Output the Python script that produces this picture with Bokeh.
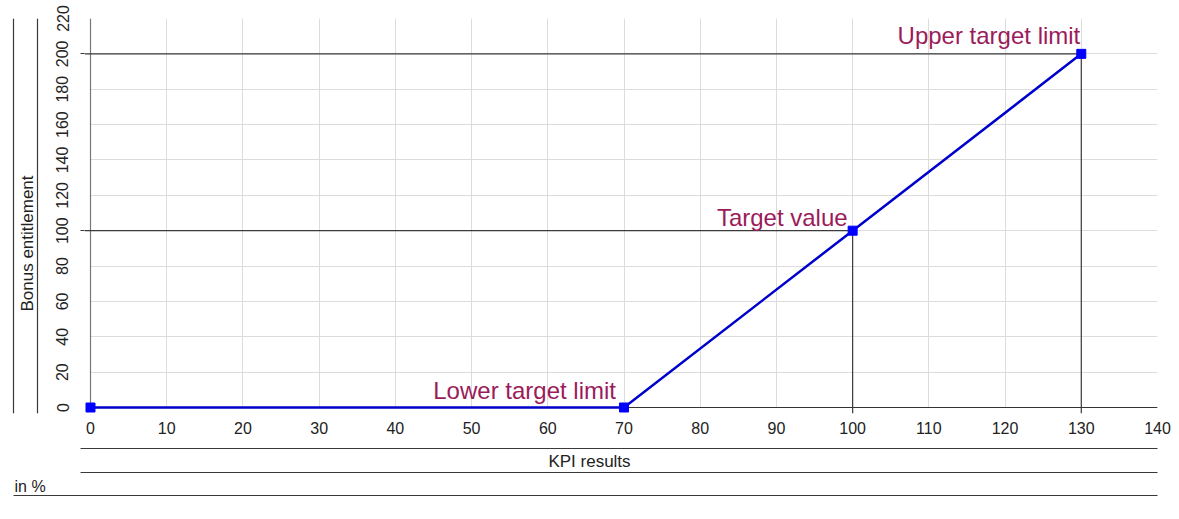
import math
from bokeh.plotting import figure
from bokeh.layouts import row, column
from bokeh.models import ColumnDataSource, FixedTicker, Range1d, BoxAnnotation
from bokeh.core.properties import value
from bokeh.embed import file_html
from bokeh.resources import INLINE

# ---- data ----
kpi = [0, 70, 100, 130]
bonus = [0, 0, 100, 200]
point_names = ["Lower target limit", "Target value", "Upper target limit"]
name_kpi = [70, 100, 130]
name_bonus = [0, 100, 200]
ref_kpi = [100, 130]
ref_bonus = [100, 200]
x_ticks = [0, 10, 20, 30, 40, 50, 60, 70, 80, 90, 100, 110, 120, 130, 140]
y_ticks = [0, 20, 40, 60, 80, 100, 120, 140, 160, 180, 200, 220]
x_title = "KPI results"
y_title = "Bonus entitlement"
unit_label = "in %"

# ---- layout (page pixels) ----
W, H = 1179, 519
LEFT_W = 45            # left strip with the y title
MAIN_H = 446           # main chart height
X0_PX, X1_PX = 90, 1157    # page x of kpi 0 and 140
Y0_PX, Y1_PX = 407, 18     # page y of bonus 0 and 220
PAD = 6                # frame padding below / left of the axes (keeps corner markers whole)
FONT = value("Liberation Sans")
TXT = "#222222"
MAROON = "#9b1b5b"
DARK = "#3a3a3a"

def mid(baseline_px, size_px):
    # vertical middle of a text line whose baseline is at baseline_px
    return baseline_px - 0.35 * size_px

sx = (X1_PX - X0_PX) / 140.0
sy = (Y0_PX - Y1_PX) / 220.0
FRAME_TOP, FRAME_BOTTOM = Y1_PX, Y0_PX + PAD

main_w = W - LEFT_W
p = figure(width=main_w, height=MAIN_H,
           x_range=Range1d(-PAD / sx, 140), y_range=Range1d(-PAD / sy, 220),
           output_backend="svg", toolbar_location=None,
           min_border_left=X0_PX - LEFT_W - PAD, min_border_right=W - X1_PX,
           min_border_top=FRAME_TOP, min_border_bottom=MAIN_H - FRAME_BOTTOM)
p.outline_line_color = None
p.background_fill_color = "white"
p.border_fill_color = "white"

# axes: labels only, the axis lines are drawn at 0 below
p.xaxis.ticker = FixedTicker(ticks=x_ticks)
p.yaxis.ticker = FixedTicker(ticks=y_ticks, minor_ticks=ref_bonus)
for ax in (p.xaxis[0], p.yaxis[0]):
    ax.axis_line_color = None
    ax.major_tick_line_color = None
    ax.major_tick_out = 0
    ax.major_tick_in = 0
    ax.minor_tick_in = 0
    ax.minor_tick_line_color = DARK
    ax.minor_tick_line_width = 1.2
    ax.major_label_text_font = "Liberation Sans"
    ax.major_label_text_font_size = "16px"
    ax.major_label_text_color = TXT
p.xaxis.minor_tick_line_color = None
p.yaxis.minor_tick_out = 4
p.xaxis.major_label_standoff = 8
p.yaxis.major_label_standoff = 12
p.yaxis.major_label_orientation = "vertical"

p.grid.grid_line_color = "#dcdcdc"
p.grid.grid_line_width = 1
p.xgrid.ticker = FixedTicker(ticks=x_ticks)
p.ygrid.ticker = FixedTicker(ticks=y_ticks)
gx, gy = p.xgrid[0], p.ygrid[0]
if "cross_bounds" in gx.properties():
    gx.cross_bounds = (0, 220)
    gy.cross_bounds = (0, 140)
else:
    p.add_layout(BoxAnnotation(right=0, fill_color="white", fill_alpha=1,
                               line_color=None, level="underlay"))
    p.add_layout(BoxAnnotation(top=0, fill_color="white", fill_alpha=1,
                               line_color=None, level="underlay"))

# axis lines at zero
p.segment(x0=[0], y0=[0], x1=[x_ticks[-1]], y1=[0], line_color="#333333", line_width=1.2)
p.segment(x0=[0], y0=[0], x1=[0], y1=[y_ticks[-1]], line_color="#777777", line_width=1.2)

# reference lines to target value / upper target limit
n = len(ref_kpi)
p.segment(x0=[p.x_range.start] * n, y0=ref_bonus, x1=ref_kpi, y1=ref_bonus,
          line_color=DARK, line_width=1.2)
p.segment(x0=ref_kpi, y0=ref_bonus, x1=ref_kpi, y1=[p.y_range.start] * n,
          line_color=DARK, line_width=1.2)

# main curve
p.line(kpi, bonus, line_color="#0000cc", line_width=2.5)
p.scatter(kpi, bonus, marker="square", size=9, color="#0000ff")

# point labels (baseline lifted a few pixels above each point)
LBL_FS = 24
lift_px = [9, 5, 10]
shift_px = [-8, -5, -1]
src = ColumnDataSource(dict(
    x=name_kpi,
    y=[b + (d + 0.35 * LBL_FS) / sy for b, d in zip(name_bonus, lift_px)],
    t=point_names, xo=shift_px))
p.text(x="x", y="y", text="t", source=src, x_offset="xo",
       text_align="right", text_baseline="middle",
       text_font=FONT, text_font_size=f"{LBL_FS}px", text_color=MAROON)

# ---- left strip: y title between two rules (frame aligned with main frame) ----
lf = figure(width=LEFT_W, height=MAIN_H, x_range=Range1d(0, LEFT_W),
            y_range=Range1d(FRAME_BOTTOM, FRAME_TOP), output_backend="svg",
            toolbar_location=None, x_axis_location=None, y_axis_location=None, min_border=0)
lf.outline_line_color = None
lf.grid.visible = False
lf.segment(x0=[13, 37], y0=[FRAME_TOP, FRAME_TOP], x1=[13, 37], y1=[FRAME_BOTTOM, FRAME_BOTTOM],
           line_color=DARK, line_width=1.2)
lf.text(x=[27], y=[243], text=[y_title], angle=math.pi / 2,
        text_align="center", text_baseline="middle",
        text_font=FONT, text_font_size="17px", text_color=TXT)

# ---- bottom strip: x title and unit rows ----
bf = figure(width=W, height=H - MAIN_H, x_range=Range1d(0, W),
            y_range=Range1d(H, MAIN_H), output_backend="svg", toolbar_location=None,
            x_axis_location=None, y_axis_location=None, min_border=0)
bf.outline_line_color = None
bf.grid.visible = False
bf.segment(x0=[80, 80, 13], y0=[448, 472, 495], x1=[X1_PX] * 3, y1=[448, 472, 495],
           line_color=DARK, line_width=1.2)
bf.text(x=[589], y=[mid(467, 17)], text=[x_title], text_align="center", text_baseline="middle",
        text_font=FONT, text_font_size="17px", text_color=TXT)
bf.text(x=[14], y=[mid(492, 16)], text=[unit_label], text_align="left", text_baseline="middle",
        text_font=FONT, text_font_size="16px", text_color=TXT)

layout = column(row(lf, p), bf)
open("out.html", "w").write(file_html(layout, INLINE))
